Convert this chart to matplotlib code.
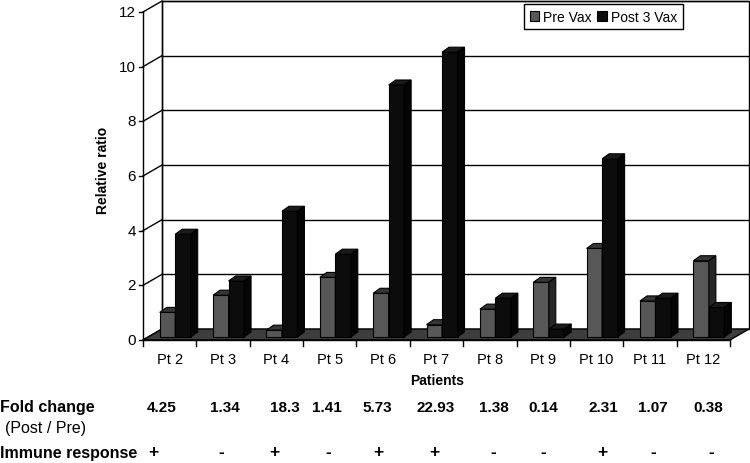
import matplotlib
matplotlib.use('Agg')
import matplotlib.pyplot as plt
from matplotlib.patches import Polygon, Rectangle

# ---------------- data ----------------
patients = ['Pt 2', 'Pt 3', 'Pt 4', 'Pt 5', 'Pt 6', 'Pt 7', 'Pt 8', 'Pt 9', 'Pt 10', 'Pt 11', 'Pt 12']
pre_vax = [0.90, 1.53, 0.25, 2.18, 1.60, 0.45, 1.02, 2.00, 3.24, 1.32, 2.79]
post_vax = [3.76, 2.05, 4.60, 3.03, 9.22, 10.42, 1.42, 0.29, 6.52, 1.42, 1.08]
fold_change = ['4.25', '1.34', '18.3', '1.41', '5.73', '22.93', '1.38', '0.14', '2.31', '1.07', '0.38']
immune_response = ['+', '-', '+', '-', '+', '+', '-', '-', '+', '-', '-']
y_ticks = [0, 2, 4, 6, 8, 10, 12]
series_names = ['Pre Vax', 'Post 3 Vax']

# ---------------- layout ----------------
W_PX, H_PX = 750, 464
X0_PX, CAT_PX = 143.0, 53.364     # front-plane origin and category width (px)
Y0_PX, UNIT_PX = 341.0, 27.333    # front-plane zero line and px per unit
fold_dx_px = [-8, 2, 8, -3, -6, -1, 4, 0, 7, 3, 5]
sign_dx_px = [-16, -2, -2, -2, -5, -2, 3, 0, 6, 3, 8]

FONT = 'Liberation Sans'
plt.rcParams['font.family'] = [FONT, 'DejaVu Sans']

fig = plt.figure(figsize=(W_PX / 100, H_PX / 100), dpi=100)
ax = fig.add_axes([0, 0, 1, 1])
ax.set_xlim(-X0_PX / CAT_PX, (W_PX - X0_PX) / CAT_PX)
ax.set_ylim(-(H_PX - Y0_PX) / UNIT_PX, Y0_PX / UNIT_PX)
ax.axis('off')


def px(xp, yp):
    return (xp - X0_PX) / CAT_PX, (Y0_PX - yp) / UNIT_PX


def dxp(d):
    return d / CAT_PX


def dyp(d):
    return d / UNIT_PX


n = len(patients)
ymax = y_ticks[-1]
DX, DY = dxp(19), dyp(11)      # wall depth
FX, FY = dxp(5), dyp(3)        # bar front plane offset
BX, BY = dxp(7), dyp(5)        # bar depth

lw = 1.0
# back wall
ax.add_patch(Polygon([(DX, DY), (n + DX, DY), (n + DX, ymax + DY), (DX, ymax + DY)],
                     closed=True, facecolor='white', edgecolor='black', lw=lw, zorder=1))
for v in y_ticks[1:]:
    ax.plot([DX, n + DX], [v + DY, v + DY], color='black', lw=lw, zorder=1.5)
# left wall
for v in y_ticks:
    ax.plot([0, DX], [v, v + DY], color='black', lw=lw, zorder=1.5)
ax.plot([0, 0], [0, ymax], color='black', lw=lw, zorder=1.5)
ax.plot([DX, DX], [DY, ymax + DY], color='black', lw=lw, zorder=1.5)
# floor
ax.add_patch(Polygon([(0, 0), (n, 0), (n + DX, DY), (DX, DY)], closed=True,
                     facecolor='#3d3d3d', edgecolor='black', lw=lw, zorder=2))
ax.plot([0, n], [0, 0], color='black', lw=lw, zorder=2.1)

# y ticks and labels
for v in y_ticks:
    ax.plot([-dxp(4), 0], [v, v], color='black', lw=lw, zorder=2)
    ax.text(-dxp(7), v, str(v), ha='right', va='center', fontsize=11, zorder=5)
# x ticks
for i in range(n + 1):
    ax.plot([i, i], [0, -dyp(6)], color='black', lw=lw, zorder=2)

# bars (3D look)
pre_cols = ('#575757', '#353535', '#262626')
post_cols = ('#0c0c0c', '#1a1a1a', '#050505')
bw = 0.29
z = 3
for i in range(n):
    for off, val, cols in ((0.22, pre_vax[i], pre_cols), (0.51, post_vax[i], post_cols)):
        x0 = i + off + FX
        ax.bar(x0, val, bottom=FY, width=bw, align='edge', color=cols[0],
               edgecolor='black', lw=0.8, zorder=z)
        top = FY + val
        ax.add_patch(Polygon([(x0, top), (x0 + bw, top), (x0 + bw + BX, top + BY), (x0 + BX, top + BY)],
                             closed=True, facecolor=cols[1], edgecolor='black', lw=0.8, zorder=z))
        ax.add_patch(Polygon([(x0 + bw, FY), (x0 + bw + BX, FY + BY), (x0 + bw + BX, top + BY), (x0 + bw, top)],
                             closed=True, facecolor=cols[2], edgecolor='black', lw=0.8, zorder=z))
        z += 0.01

# category labels
for i, name in enumerate(patients):
    ax.text(i + 0.5, px(0, 360)[1], name, ha='center', va='center', fontsize=10.5, zorder=5)

ax.text(*px(437, 381), 'Patients', ha='center', va='center', fontsize=10, fontweight='bold')
ax.text(*px(103, 170), 'Relative ratio', ha='center', va='center', rotation=90,
        fontsize=10, fontweight='bold')

# table below
ax.text(*px(0, 408), 'Fold change', ha='left', va='center', fontsize=11.5, fontweight='bold')
ax.text(*px(5, 429), '(Post / Pre)', ha='left', va='center', fontsize=11.5)
ax.text(*px(0, 454), 'Immune response', ha='left', va='center', fontsize=11.5, fontweight='bold')
for i in range(n):
    cx = i + 0.5
    ax.text(cx + dxp(fold_dx_px[i]), px(0, 408)[1], fold_change[i], ha='center', va='center',
            fontsize=11, fontweight='bold')
    ax.text(cx + dxp(sign_dx_px[i]), px(0, 453)[1], immune_response[i], ha='center', va='center',
            fontsize=12.5, fontweight='bold')

# legend
handles = [Rectangle((0, 0), 1, 1, facecolor=pre_cols[0], edgecolor='black', lw=0.8),
           Rectangle((0, 0), 1, 1, facecolor=post_cols[0], edgecolor='black', lw=0.8)]
leg = ax.legend(handles, series_names, ncol=2, loc='upper left',
                bbox_to_anchor=(524 / W_PX, 1 - 5 / H_PX), bbox_transform=fig.transFigure,
                fontsize=10, frameon=True, fancybox=False, framealpha=1,
                edgecolor='black', handlelength=0.7, handleheight=0.7, handletextpad=0.3,
                columnspacing=0.35, borderpad=0.4, borderaxespad=0)
leg.get_frame().set_linewidth(1.0)
leg.set_zorder(10)

fig.savefig('out.png', dpi=100)
